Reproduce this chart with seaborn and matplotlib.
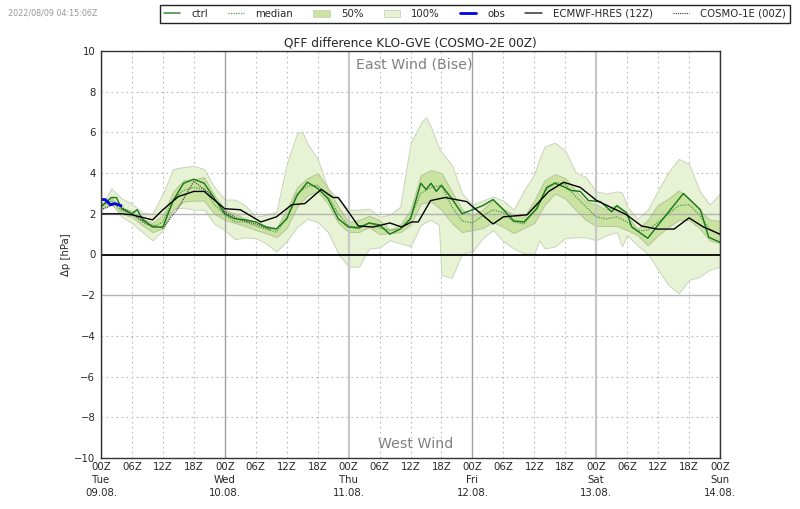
import matplotlib
matplotlib.use('Agg')
import matplotlib.pyplot as plt
from matplotlib.patches import Patch
from matplotlib.lines import Line2D
from matplotlib.ticker import MultipleLocator
import seaborn as sns

# --- data (hPa), hours since 09.08. 00Z ---
p100_hours = [0, 2, 4, 6, 8, 10, 12, 14, 16, 18, 20, 22, 24, 26, 28, 30, 32, 34, 36, 38, 39, 40,
              42, 44, 46, 48, 50, 52, 54, 56, 58, 60, 62, 63, 64, 65.5, 66, 68, 70, 72, 74, 76, 78, 80, 82,
              84, 85, 86, 88, 90, 92, 94, 96, 98, 100, 101, 102, 104, 106, 108, 110, 112, 114, 116, 118, 120]
p100_hi = [2.35, 3.25, 2.75, 2.5, 2.05, 2.0, 3.0, 4.2, 4.3, 4.35, 4.2, 3.3, 2.7, 2.7, 2.4, 1.85, 1.95, 2.1, 4.45, 5.95, 6.05, 5.45,
           4.7, 3.25, 2.75, 2.2, 2.2, 2.25, 1.85, 1.95, 2.35, 5.45, 6.45, 6.75, 6.25, 5.25, 5.05, 4.4, 3.0, 2.45, 2.65, 2.85, 2.65, 2.2, 3.15,
           3.95, 4.7, 5.3, 5.5, 5.1, 4.05, 3.8, 3.1, 3.0, 3.1, 3.05, 2.35, 1.75, 2.2, 3.15, 4.05, 4.7, 4.45, 3.15, 2.45, 3.0]
p100_lo = [2.2, 2.5, 1.85, 1.55, 1.1, 0.7, 1.2, 2.25, 2.3, 2.2, 2.2, 1.5, 1.2, 0.75, 0.85, 0.8, 0.55, 0.15, 0.65, 1.35, 1.55, 1.75,
           1.6, 1.1, 0.05, -0.6, -0.6, 0.3, 0.35, 0.7, 0.55, 0.4, 1.45, 1.6, 1.7, 1.45, -1.0, -1.15, 0.05, 0.15, 0.8, 1.2, 0.65, 0.3, 0.05,
           0.05, 0.7, 0.3, 0.4, 0.8, 0.85, 0.85, 0.7, 0.95, 1.1, 0.4, 0.95, 0.45, 0.05, -0.75, -1.5, -1.9, -1.25, -1.1, -0.75, -0.6]

hours = list(range(0, 121, 2))
p50_hi = [2.5, 2.8, 2.3, 2.15, 1.75, 1.55, 1.95, 3.1, 3.65, 3.7, 3.8, 2.9, 2.2, 2.0, 1.75, 1.6, 1.4, 1.3, 2.2, 3.3, 3.75,
          4.0, 3.25, 2.35, 1.6, 1.7, 1.9, 1.7, 1.2, 1.45, 2.2, 3.9, 4.15, 4.0, 3.1, 2.2, 1.95, 2.2, 2.7, 2.25, 1.95, 1.85,
          2.65, 3.65, 3.95, 3.75, 3.15, 2.6, 2.45, 2.2, 2.45, 1.9, 1.25, 1.7, 2.45, 2.75, 3.15, 2.75, 2.2, 1.7, 1.65]
p50_lo = [2.25, 2.5, 2.0, 1.85, 1.45, 1.1, 1.3, 2.2, 2.6, 2.65, 2.65, 2.0, 1.7, 1.55, 1.4, 1.2, 1.05, 0.85, 1.3, 2.35, 2.9,
          3.1, 2.5, 1.55, 1.1, 1.1, 1.35, 1.0, 1.05, 1.1, 1.45, 2.5, 2.6, 2.2, 1.55, 1.1, 1.2, 1.3, 1.6, 1.35, 1.05, 1.3,
          1.55, 2.45, 3.0, 2.75, 2.2, 1.7, 1.4, 1.4, 1.4, 1.2, 0.95, 0.45, 0.95, 1.35, 1.7, 1.7, 1.3, 0.7, 0.55]
median = [2.35, 2.65, 2.15, 2.0, 1.6, 1.35, 1.6, 2.7, 3.15, 3.3, 3.2, 2.45, 1.95, 1.6, 1.6, 1.4, 1.25, 1.1, 1.8, 3.0, 3.35,
          3.4, 2.9, 2.0, 1.4, 1.35, 1.55, 1.3, 1.2, 1.25, 1.8, 3.0, 3.3, 3.4, 2.35, 1.65, 1.55, 1.9, 2.2, 2.05, 1.6, 1.5,
          2.15, 3.1, 3.55, 3.45, 2.85, 2.35, 1.85, 1.75, 1.85, 1.6, 1.15, 1.2, 1.6, 2.0, 2.4, 2.45, 1.95, 1.25, 0.95]

ctrl_hours = [0, 2, 3, 4, 6, 7, 8, 10, 12, 14, 16, 18, 20, 22, 24, 26, 28, 30, 32, 34, 36, 38, 40, 42, 44, 46, 48, 50,
              52, 54, 56, 58, 60, 62, 63, 64, 65, 66, 68, 70, 72, 74, 76, 78, 80, 82, 84.5, 86.4, 88, 90, 91, 92.9,
              94.5, 96.8, 99, 100, 101.9, 102.9, 106, 108, 112.9, 116.2, 117.8, 120]
ctrl = [2.35, 2.8, 2.8, 2.25, 2.0, 2.2, 1.75, 1.35, 1.35, 2.65, 3.5, 3.7, 3.5, 2.75, 2.0, 1.75, 1.7, 1.6, 1.35, 1.25, 1.75, 2.9, 3.55, 3.25, 2.75, 1.75, 1.35, 1.3,
        1.55, 1.45, 1.0, 1.25, 1.75, 3.5, 3.2, 3.5, 3.1, 3.4, 2.75, 2.0, 2.2, 2.4, 2.7, 2.2, 1.65, 1.6, 2.25, 3.3, 3.5, 3.3, 3.15, 3.1,
        2.65, 2.6, 2.1, 2.4, 2.05, 1.35, 0.8, 1.45, 3.0, 2.2, 0.85, 0.6]

ecmwf_hours = [0, 4, 6, 10, 12, 15, 18, 20, 24, 27, 30, 31, 34, 37, 39.5, 42.7, 45, 46, 49.9, 52.8, 56, 58.3, 60.2, 61.5,
               63.9, 66.7, 70.9, 76, 78, 82.6, 86.8, 89.7, 92.9, 96.1, 101.9, 104.8, 107.8, 111.1, 114, 116.8, 120]
ecmwf = [2.0, 2.0, 1.95, 1.7, 2.2, 2.85, 3.1, 3.1, 2.25, 2.2, 1.75, 1.6, 1.85, 2.45, 2.5, 3.2, 2.8, 2.8, 1.4, 1.35, 1.55, 1.35, 1.6, 1.6,
         2.65, 2.8, 2.6, 1.5, 1.85, 1.95, 3.1, 3.55, 3.3, 2.65, 1.95, 1.4, 1.25, 1.25, 1.8, 1.35, 1.0]

cosmo1_hours = [0, 3, 6, 9, 12, 15, 18, 21, 24, 27, 30, 33]
cosmo1 = [2.2, 2.5, 2.0, 1.5, 1.3, 2.3, 3.6, 3.0, 2.1, 1.7, 1.5, 1.2]

obs_hours = [0, 0.8, 1.8, 2.7, 3.9]
obs = [2.7, 2.7, 2.45, 2.5, 2.4]

tick_hours = list(range(0, 121, 6))
day_labels = {0: 'Tue\n09.08.', 24: 'Wed\n10.08.', 48: 'Thu\n11.08.', 72: 'Fri\n12.08.', 96: 'Sat\n13.08.', 120: 'Sun\n14.08.'}

band100 = '#e8f3d6'
band50 = '#cbe3a0'
edge = '#c8d4b8'

sns.set_style('white')
plt.rcParams['font.family'] = ['DejaVu Sans']

fig = plt.figure(figsize=(8, 5.09), dpi=100)
ax = fig.add_axes([101 / 800, 1 - 458 / 509, 619 / 800, 407 / 509])

# grid first so the bands sit over it
ax.set_axisbelow(True)
for y in range(-10, 11, 2):
    if y in (-2, 2):
        ax.axhline(y, color='#a8a8a8', lw=1, alpha=0.85, zorder=3)
    elif y != 0:
        ax.axhline(y, color='#b8b8b8', lw=0.8, ls=(0, (1.5, 3)), zorder=0.5)
for h in tick_hours:
    if h in (48, 96):
        ax.axvline(h, color='#c8c8c8', lw=1.6, zorder=3)
    elif h % 24 == 0:
        ax.axvline(h, color='#a0a0a0', lw=1.0, zorder=3)
    else:
        ax.axvline(h, color='#b8b8b8', lw=0.8, ls=(0, (1.5, 3)), zorder=0.5)

ax.fill_between(p100_hours, p100_lo, p100_hi, facecolor=band100, edgecolor=edge, lw=0.7, zorder=1)
ax.fill_between(hours, p50_lo, p50_hi, facecolor=band50, edgecolor='#b4c49a', lw=0.7, zorder=2)

sns.lineplot(x=hours, y=median, ax=ax, color='#4e9a4e', lw=0.9, ls=(0, (1, 1)), zorder=4)
sns.lineplot(x=cosmo1_hours, y=cosmo1, ax=ax, color='#333333', lw=0.8, ls=(0, (1, 1)), zorder=4)
sns.lineplot(x=ctrl_hours, y=ctrl, ax=ax, color='#1a7a1a', lw=1.05, zorder=5)
sns.lineplot(x=ecmwf_hours, y=ecmwf, ax=ax, color='black', lw=1.0, zorder=6)
sns.lineplot(x=obs_hours, y=obs, ax=ax, color='#0000e6', lw=2, zorder=7)

ax.axhline(0, color='black', lw=1.3, zorder=8)

ax.set_xlim(0, 120)
ax.set_ylim(-10, 10)
ax.yaxis.set_major_locator(MultipleLocator(2))
ax.set_xticks(tick_hours)
ax.set_xticklabels([('%02dZ' % (h % 24)) + ('\n' + day_labels[h] if h in day_labels else '') for h in tick_hours],
                   fontsize=7.3, linespacing=1.35)
ax.tick_params(axis='y', labelsize=7.3, length=0, pad=4)
ax.tick_params(axis='x', length=0, pad=3)
ax.set_ylabel('Δp [hPa]', fontsize=7.3, labelpad=2)
ax.set_title('QFF difference KLO-GVE (COSMO-2E 00Z)', fontsize=8.7, pad=3)

for side in ax.spines.values():
    side.set_color('#333333')
    side.set_linewidth(1.0)
    side.set_zorder(10)

ax.text(60.8, 9.35, 'East Wind (Bise)', ha='center', va='center', fontsize=10.2, color='#808080')
ax.text(60.9, -9.3, 'West Wind', ha='center', va='center', fontsize=10.2, color='#808080')

fig.text(8 / 800, 1 - 12.5 / 509, '2022/08/09 04:15:06Z', fontsize=5.8, color='#999999', va='center')

handles = [
    Line2D([], [], color='#4e8f4e', lw=1.2),
    Line2D([], [], color='#4e9a4e', lw=0.9, ls=(0, (1, 1))),
    Patch(facecolor=band50, edgecolor=edge, lw=0.6),
    Patch(facecolor=band100, edgecolor=edge, lw=0.6),
    Line2D([], [], color='#0000e6', lw=2),
    Line2D([], [], color='#333333', lw=1.1),
    Line2D([], [], color='#333333', lw=0.8, ls=(0, (1, 1))),
]
labels = ['ctrl', 'median', '50%', '100%', 'obs', 'ECMWF-HRES (12Z)', 'COSMO-1E (00Z)']
leg = fig.legend(handles, labels, ncol=7, loc='center', bbox_to_anchor=(475 / 800, 1 - 14 / 509), fontsize=7.3,
                 frameon=True, fancybox=False, edgecolor='#222222', framealpha=1, handlelength=1.6,
                 columnspacing=2.0, handletextpad=1.1, borderpad=0.4, borderaxespad=0)
leg.get_frame().set_linewidth(1.0)

fig.savefig('out.png', dpi=100)
